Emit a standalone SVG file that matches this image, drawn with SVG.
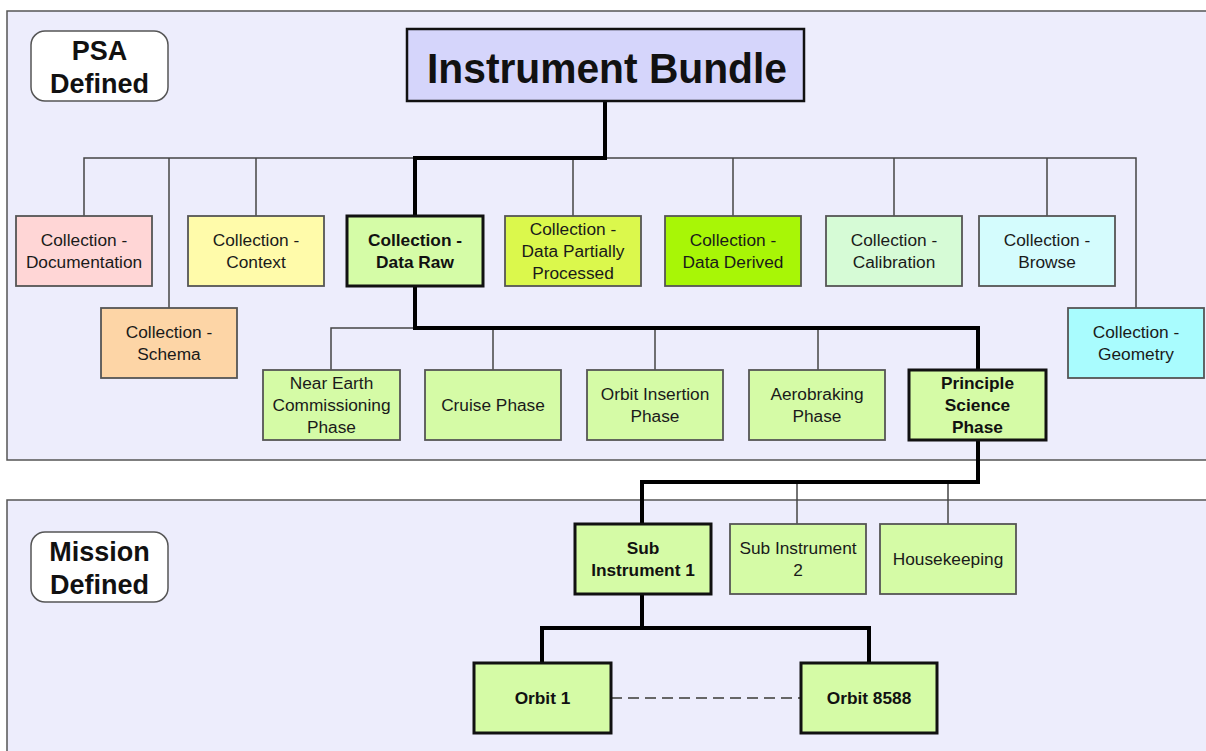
<svg xmlns="http://www.w3.org/2000/svg" width="1206" height="751" viewBox="0 0 1206 751">
  <style>
    .panel { fill: #ededfc; stroke: #555; stroke-width: 1.5; }
    .tag { fill: #ffffff; stroke: #555; stroke-width: 1.5; }
    .tag-t { font-family: "Liberation Sans", Arial, sans-serif; font-size: 27px; font-weight: bold; fill: #111; text-anchor: middle; }
    .box { stroke: #555; stroke-width: 1.8; }
    .key { stroke: #111; stroke-width: 3; }
    .t { font-family: "Liberation Sans", Arial, sans-serif; font-size: 17.3px; fill: #1a1a1a; text-anchor: middle; }
    .b { font-weight: bold; fill: #111; }
    .thin { fill: none; stroke: #444; stroke-width: 1.5; }
    .thick { fill: none; stroke: #000; stroke-width: 4; stroke-linejoin: miter; }
    .dash { fill: none; stroke: #666; stroke-width: 1.8; stroke-dasharray: 11 6; }
  </style>

  <rect width="1206" height="751" fill="#ffffff"/>

  <!-- background panels -->
  <g id="panel-psa">
    <rect class="panel" x="7" y="11" width="1210" height="449"/>
    <rect class="tag" x="31" y="31" width="137" height="70" rx="14"/>
    <text class="tag-t" x="99.5" y="60">PSA</text>
    <text class="tag-t" x="99.5" y="93">Defined</text>
  </g>
  <g id="panel-mission">
    <rect class="panel" x="7" y="500" width="1210" height="260"/>
    <rect class="tag" x="31" y="532" width="137" height="70" rx="14"/>
    <text class="tag-t" x="99.5" y="561">Mission</text>
    <text class="tag-t" x="99.5" y="594">Defined</text>
  </g>

  <!-- connectors -->
  <g id="connectors">
    <path class="thin" d="M84 216 V158 H1136 V308"/>
    <path class="thin" d="M169 158 V308"/>
    <path class="thin" d="M256 158 V216"/>
    <path class="thin" d="M573 158 V216"/>
    <path class="thin" d="M733 158 V216"/>
    <path class="thin" d="M894 158 V216"/>
    <path class="thin" d="M1047 158 V216"/>

    <path class="thin" d="M331 370 V328 H415"/>
    <path class="thin" d="M493 328 V370"/>
    <path class="thin" d="M655 328 V370"/>
    <path class="thin" d="M818 328 V370"/>

    <path class="thin" d="M797 482 V524"/>
    <path class="thin" d="M948 482 V524"/>

    <path class="thick" d="M605 101 V158 H415 V216"/>
    <path class="thick" d="M415 286 V328 H978 V370"/>
    <path class="thick" d="M978 440 V482 H642 V524"/>
    <path class="thick" d="M642 594 V628"/>
    <path class="thick" d="M542 663 V628 H869 V663"/>

    <path class="dash" d="M611 698 H801"/>
  </g>

  <!-- root -->
  <g id="instrument-bundle">
    <rect x="407" y="29" width="397" height="72" fill="#d5d5fb" stroke="#111" stroke-width="2.5"/>
    <text x="607" y="83" font-family="Liberation Sans, Arial, sans-serif" font-size="43" font-weight="bold" fill="#111" text-anchor="middle" textLength="360" lengthAdjust="spacingAndGlyphs">Instrument Bundle</text>
  </g>

  <!-- collections -->
  <g id="col-documentation">
    <rect class="box" x="16" y="216" width="136" height="70" fill="#ffd6d6"/>
    <text class="t" x="84" y="246">Collection -</text>
    <text class="t" x="84" y="268">Documentation</text>
  </g>
  <g id="col-schema">
    <rect class="box" x="101" y="308" width="136" height="70" fill="#fdd5a6"/>
    <text class="t" x="169" y="338">Collection -</text>
    <text class="t" x="169" y="360">Schema</text>
  </g>
  <g id="col-context">
    <rect class="box" x="188" y="216" width="136" height="70" fill="#fffbaa"/>
    <text class="t" x="256" y="246">Collection -</text>
    <text class="t" x="256" y="268">Context</text>
  </g>
  <g id="col-data-raw">
    <rect class="key" x="347" y="216" width="136" height="70" fill="#d5fca7"/>
    <text class="t b" x="415" y="246">Collection -</text>
    <text class="t b" x="415" y="268">Data Raw</text>
  </g>
  <g id="col-data-partial">
    <rect class="box" x="505" y="216" width="136" height="70" fill="#dbf84c"/>
    <text class="t" x="573" y="235">Collection -</text>
    <text class="t" x="573" y="257">Data Partially</text>
    <text class="t" x="573" y="279">Processed</text>
  </g>
  <g id="col-data-derived">
    <rect class="box" x="665" y="216" width="136" height="70" fill="#a8f606"/>
    <text class="t" x="733" y="246">Collection -</text>
    <text class="t" x="733" y="268">Data Derived</text>
  </g>
  <g id="col-calibration">
    <rect class="box" x="826" y="216" width="136" height="70" fill="#d6fbd6"/>
    <text class="t" x="894" y="246">Collection -</text>
    <text class="t" x="894" y="268">Calibration</text>
  </g>
  <g id="col-browse">
    <rect class="box" x="979" y="216" width="136" height="70" fill="#d4fcfd"/>
    <text class="t" x="1047" y="246">Collection -</text>
    <text class="t" x="1047" y="268">Browse</text>
  </g>
  <g id="col-geometry">
    <rect class="box" x="1068" y="308" width="136" height="70" fill="#a9fcfe"/>
    <text class="t" x="1136" y="338">Collection -</text>
    <text class="t" x="1136" y="360">Geometry</text>
  </g>

  <!-- mission phases -->
  <g id="phase-near-earth">
    <rect class="box" x="263" y="370" width="137" height="70" fill="#d5fba6"/>
    <text class="t" x="331.5" y="389">Near Earth</text>
    <text class="t" x="331.5" y="411">Commissioning</text>
    <text class="t" x="331.5" y="433">Phase</text>
  </g>
  <g id="phase-cruise">
    <rect class="box" x="425" y="370" width="136" height="70" fill="#d5fba6"/>
    <text class="t" x="493" y="411">Cruise Phase</text>
  </g>
  <g id="phase-orbit-insertion">
    <rect class="box" x="587" y="370" width="136" height="70" fill="#d5fba6"/>
    <text class="t" x="655" y="400">Orbit Insertion</text>
    <text class="t" x="655" y="422">Phase</text>
  </g>
  <g id="phase-aerobraking">
    <rect class="box" x="749" y="370" width="136" height="70" fill="#d5fba6"/>
    <text class="t" x="817" y="400">Aerobraking</text>
    <text class="t" x="817" y="422">Phase</text>
  </g>
  <g id="phase-principle-science">
    <rect class="key" x="909" y="370" width="137" height="70" fill="#d5fba6"/>
    <text class="t b" x="977.5" y="389">Principle</text>
    <text class="t b" x="977.5" y="411">Science</text>
    <text class="t b" x="977.5" y="433">Phase</text>
  </g>

  <!-- sub instruments -->
  <g id="sub-instrument-1">
    <rect class="key" x="575" y="524" width="136" height="70" fill="#d5fba6"/>
    <text class="t b" x="643" y="554">Sub</text>
    <text class="t b" x="643" y="576">Instrument 1</text>
  </g>
  <g id="sub-instrument-2">
    <rect class="box" x="730" y="524" width="136" height="70" fill="#d5fba6"/>
    <text class="t" x="798" y="554">Sub Instrument</text>
    <text class="t" x="798" y="576">2</text>
  </g>
  <g id="housekeeping">
    <rect class="box" x="880" y="524" width="136" height="70" fill="#d5fba6"/>
    <text class="t" x="948" y="565">Housekeeping</text>
  </g>

  <!-- orbits -->
  <g id="orbit-1">
    <rect class="key" x="474" y="663" width="137" height="70" fill="#d5fba6"/>
    <text class="t b" x="542.5" y="704">Orbit 1</text>
  </g>
  <g id="orbit-8588">
    <rect class="key" x="801" y="663" width="136" height="70" fill="#d5fba6"/>
    <text class="t b" x="869" y="704">Orbit 8588</text>
  </g>
</svg>
